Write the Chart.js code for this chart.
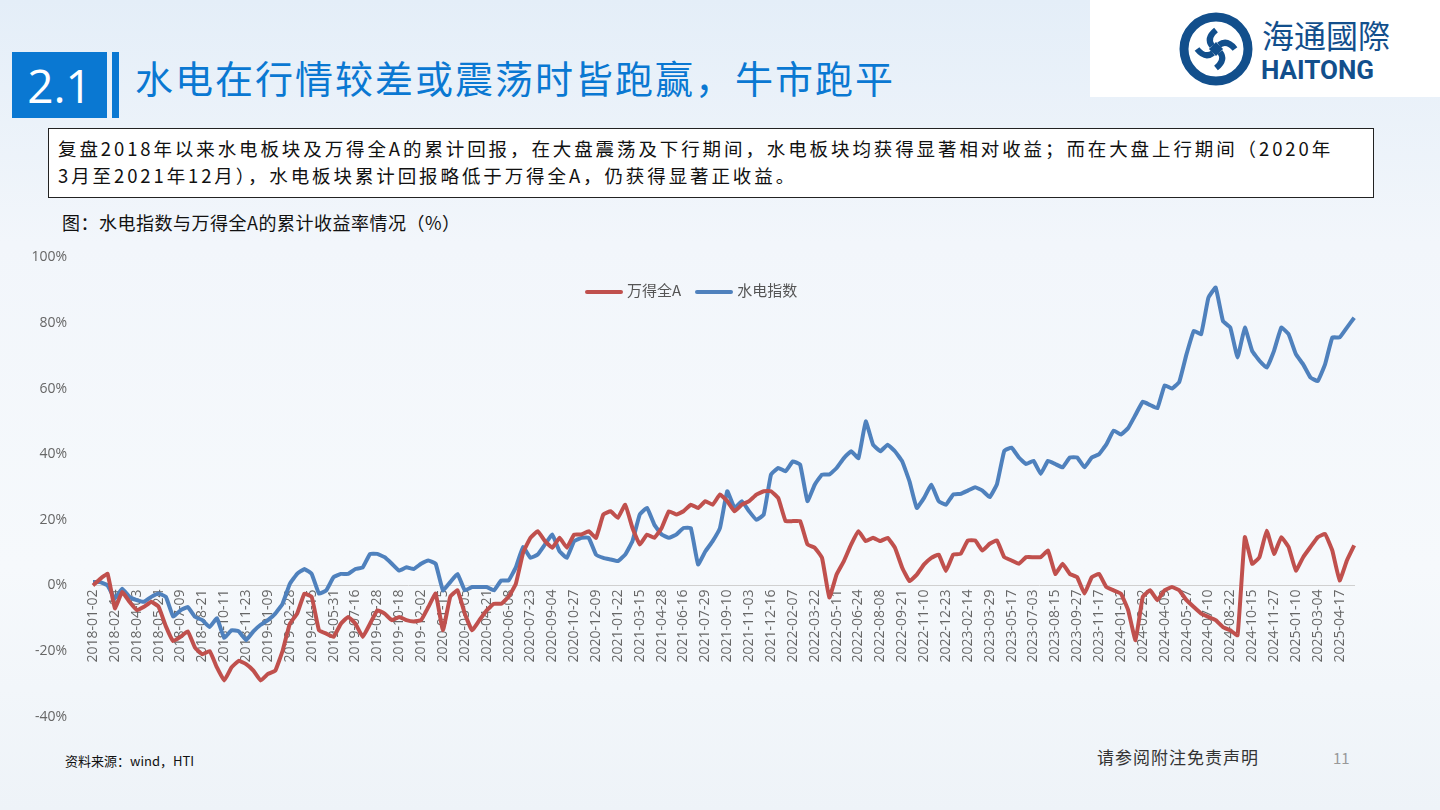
<!DOCTYPE html>
<html>
<head>
<meta charset="utf-8">
<script src="https://cdn.jsdelivr.net/npm/chart.js@4.4.1/dist/chart.umd.min.js"></script>
<style>
  body { margin: 0; width: 1440px; height: 810px; overflow: hidden; font-family: "Noto Sans CJK SC", "Noto Sans", sans-serif;
         background: linear-gradient(180deg, #e4eef8 0%, #f2f6fb 30%, #f6f9fc 70%, #eef3f8 100%); position: relative; }
  .abs { position: absolute; }
  #num { left: 12px; top: 52px; width: 95px; height: 66px; background: #0a78d2; color: #fff; font-size: 46px;
         line-height: 66px; text-align: center; font-family: "Open Sans", sans-serif; }
  #bar { left: 112px; top: 52px; width: 7px; height: 66px; background: #0a78d2; }
  #title { left: 135px; top: 49px; font-size: 38px; color: #0a78d2; line-height: 56px; letter-spacing: 2px; }
  #logo { left: 1090px; top: 0; width: 350px; height: 97px; background: #fff; }
  #box { left: 48px; top: 128px; width: 1306px; height: 54px; border: 1.5px solid #222; background: #fff;
         font-size: 18.5px; line-height: 27px; padding: 6px 9px 8px 9px; color: #111; letter-spacing: 2.9px; white-space: nowrap; }
  #cap { left: 62px; top: 209px; font-size: 18px; color: #111; letter-spacing: 0.5px; }
  #legend { left: 585px; top: 279px; font-size: 15px; color: #555; display: flex; gap: 14px; }
  #legend span i { display: inline-block; width: 38px; height: 4px; vertical-align: middle; margin-right: 4px; border-radius: 2px; }
  #src { left: 65px; top: 751px; font-size: 13px; color: #111; }
  #disc { left: 1097px; top: 744px; font-size: 17px; color: #333; letter-spacing: 1px; }
  #page { left: 1333px; top: 747px; font-size: 15px; color: #999; }
  #wrap { left: 0; top: 231px; width: 1375px; height: 512px; }
</style>
</head>
<body>
<div id="num" class="abs">2.1</div>
<div id="bar" class="abs"></div>
<div id="title" class="abs">水电在行情较差或震荡时皆跑赢，牛市跑平</div>
<div id="logo" class="abs">
  <svg width="350" height="97" viewBox="0 0 350 97">
    <circle cx="126" cy="49" r="32" fill="none" stroke="#124f8c" stroke-width="9"/>
    <path d="M126 30 q-10 8 -4 16 M126 68 q10 -8 4 -16 M107 49 q8 10 16 4 M145 49 q-8 -10 -16 -4" stroke="#124f8c" stroke-width="6" fill="none"/>
    <rect x="121" y="44" width="10" height="10" fill="#124f8c" transform="rotate(45 126 49)"/>
    <text x="172" y="48" font-size="32" fill="#124f8c" font-family="Noto Sans CJK SC">海通國際</text>
    <text x="171" y="79" font-size="26" font-weight="bold" fill="#124f8c" font-family="Roboto">HAITONG</text>
  </svg>
</div>
<div id="box" class="abs">复盘2018年以来水电板块及万得全A的累计回报，在大盘震荡及下行期间，水电板块均获得显著相对收益；而在大盘上行期间（2020年<br>3月至2021年12月），水电板块累计回报略低于万得全A，仍获得显著正收益。</div>
<div id="cap" class="abs">图：水电指数与万得全A的累计收益率情况（%）</div>
<div id="wrap" class="abs"><canvas id="c"></canvas></div>
<div id="legend" class="abs"><span><i style="background:#c0504d"></i>万得全A</span><span><i style="background:#4f81bd"></i>水电指数</span></div>
<div id="src" class="abs">资料来源：wind，HTI</div>
<div id="disc" class="abs">请参阅附注免责声明</div>
<div id="page" class="abs">11</div>
<script>
// tick dates, one every third data point
const tickDates = ['2018-01-02','2018-02-14','2018-04-03','2018-05-24','2018-07-09','2018-08-21','2018-10-11','2018-11-23',
  '2019-01-09','2019-02-28','2019-04-15','2019-05-31','2019-07-16','2019-08-28','2019-10-18','2019-12-02',
  '2020-01-15','2020-03-05','2020-04-21','2020-06-08','2020-07-23','2020-09-04','2020-10-27','2020-12-09',
  '2021-01-22','2021-03-15','2021-04-28','2021-06-16','2021-07-29','2021-09-10','2021-11-03','2021-12-16',
  '2022-02-07','2022-03-22','2022-05-11','2022-06-24','2022-08-08','2022-09-21','2022-11-10','2022-12-23',
  '2023-02-14','2023-03-29','2023-05-17','2023-07-03','2023-08-15','2023-09-27','2023-11-17',
  '2024-01-02','2024-02-22','2024-04-09','2024-05-27','2024-07-10','2024-08-22','2024-10-15','2024-11-27',
  '2025-01-10','2025-03-04','2025-04-17'];

const windA = [0,2,3.5, -7,-2,-5, -7.5,-6.5,-5, -6.5,-12.5,-17, -15.7,-14,-19, -21,-20,-25, -29,-25,-23, -24,-26,-29,
  -27,-26,-20, -11.7,-8.6,-2.5, -3.5,-13.7,-14.7, -15.7,-11.7,-9.6, -11.7,-15.7,-11.7, -7.6,-8.6,-10.6, -9.6,-10.6,-11,
  -10.6,-6.6,-2.5, -13.7,-3.5,-1.5, -8.6,-13.7,-10.6, -7.6,-5.6,-5.6, -3.5,0.5,10,
  14.5,16.5,13.5, 11.5,14.5,11.5, 15.5,15.5,16.5, 14.5,21.6,22.6, 20.6,24.6,17.5, 12.5,15.5,14.5, 17.5,22.6,21.6,
  22.6,24.6,23.6, 25.7,24.6,27.7, 25.7,22.6,24.6, 25.7,27.7,28.7, 28.7,26.6,19.6, 19.6,19.6,12.5, 11.5,8.4,-3.7,
  3.3,7.4,12.5, 16.5,13.5,14.5, 13.5,14.5,11.5, 5.4,1.3,3.3, 6.4,8.4,9.4, 4.4,9.4,9.6,
  13.7,13.7,10.6, 12.7,13.7,8.6, 7.6,6.6,8.6, 8.6,8.6,10.6, 3.5,6.6,3.5, 2.5,-2.5,2.5, 3.5,-0.5,-1.5,
  -2.5,-7.6,-16.7, -3.5,-1.5,-4.5, -1.5,-0.5,-1.5, -4.5,-6.6,-8.6, -9.6,-10.6,-12.7, -13.7,-15.2,14.7,
  6.6,8.6,16.7, 9.6,14.7,11.7, 4.5,8.6,11.7, 14.7,15.7,10.6, 1.5,7.6,12.2];

const hydro = [1,1,0, -4,-1,-3.5, -4.5,-5,-3.5, -2.5,-3.5,-9.5, -7.6,-6.6,-9.6, -10.6,-12.7,-10, -16,-13.7,-14, -16.7,-14,-12,
  -10.6,-8.6,-5.6, 0.5,3.5,5, 3.5,-2.5,-1.5, 2.5,3.5,3.5, 5,5.5,9.6, 9.6,8.6,6.6, 4.5,5.5,5,
  6.6,7.6,6.6, -1.5,1,3.5, -1.5,-0.5,-0.5, -0.5,-1.5,1.5, 1.5,5.5,11.7,
  8.4,9.4,12.5, 15.5,10.4,8.4, 13.5,14.5,14.5, 9.4,8.4,7.9, 7.4,9.4,13.5, 21.6,23.6,18.5, 15.5,14.5,15.5,
  17.5,17.5,6.4, 10.4,13.5,17.5, 28.7,23.6,25.7, 22.6,20,21.6, 33.8,35.8,34.8, 37.8,36.8,25.7, 30.7,33.8,33.8,
  35.8,38.8,40.9, 38.8,50,42.9, 40.9,42.9,40.9, 37.8,31.7,23.6, 26.7,30.7,25.7, 24.6,27.7,27.9,
  28.9,29.9,28.9, 26.9,30.9,41, 42,39,37, 38,34,38, 37,36,39, 39,36,39, 40,43,47.2,
  46,48,52, 56,55,54, 61,60,62, 70.5,77.6,76.6, 87.7,90.8,80.6, 78.6,69.5,78.6,
  71.5,68.5,66.4, 71.5,78.6,76.6, 70.5,67.4,63.4, 62.3,67.4,75.6, 75.6,78.6,81.6];

const yTicks = [100, 80, 60, 40, 20, 0, -20, -40];

const labels = windA.map((v, i) => (i % 3 === 0 && tickDates[i / 3]) ? tickDates[i / 3] : '');

new Chart(document.getElementById('c'), {
  type: 'line',
  data: {
    labels,
    datasets: [
      { label: '万得全A', data: windA, borderColor: '#c0504d', borderWidth: 4, pointRadius: 0, tension: 0.1 },
      { label: '水电指数', data: hydro, borderColor: '#4f81bd', borderWidth: 4, pointRadius: 0, tension: 0.1 }
    ]
  },
  options: {
    responsive: true,
    maintainAspectRatio: false,
    animation: false,
    layout: { padding: { top: 10, bottom: 10, right: 10 } },
    plugins: { legend: { display: false }, tooltip: { enabled: false } },
    scales: {
      x: {
        position: { y: 0 },
        offset: false,
        grid: { display: false, drawTicks: false },
        border: { color: '#d0d0d0', width: 1 },
        ticks: {
          autoSkip: false, maxRotation: 90, minRotation: 90, color: '#666',
          font: { family: 'Open Sans', size: 14 }, padding: 4,
          callback: (v, i) => labels[i]
        }
      },
      y: {
        min: -40, max: 100,
        afterBuildTicks: ax => { ax.ticks = yTicks.map(v => ({ value: v })); },
        afterFit: ax => { ax.width = 93; },
        grid: { display: false },
        border: { display: false },
        ticks: { color: '#666', font: { family: 'Open Sans', size: 14 }, padding: 18, callback: v => v + '%' }
      }
    }
  }
});
</script>
</body>
</html>
